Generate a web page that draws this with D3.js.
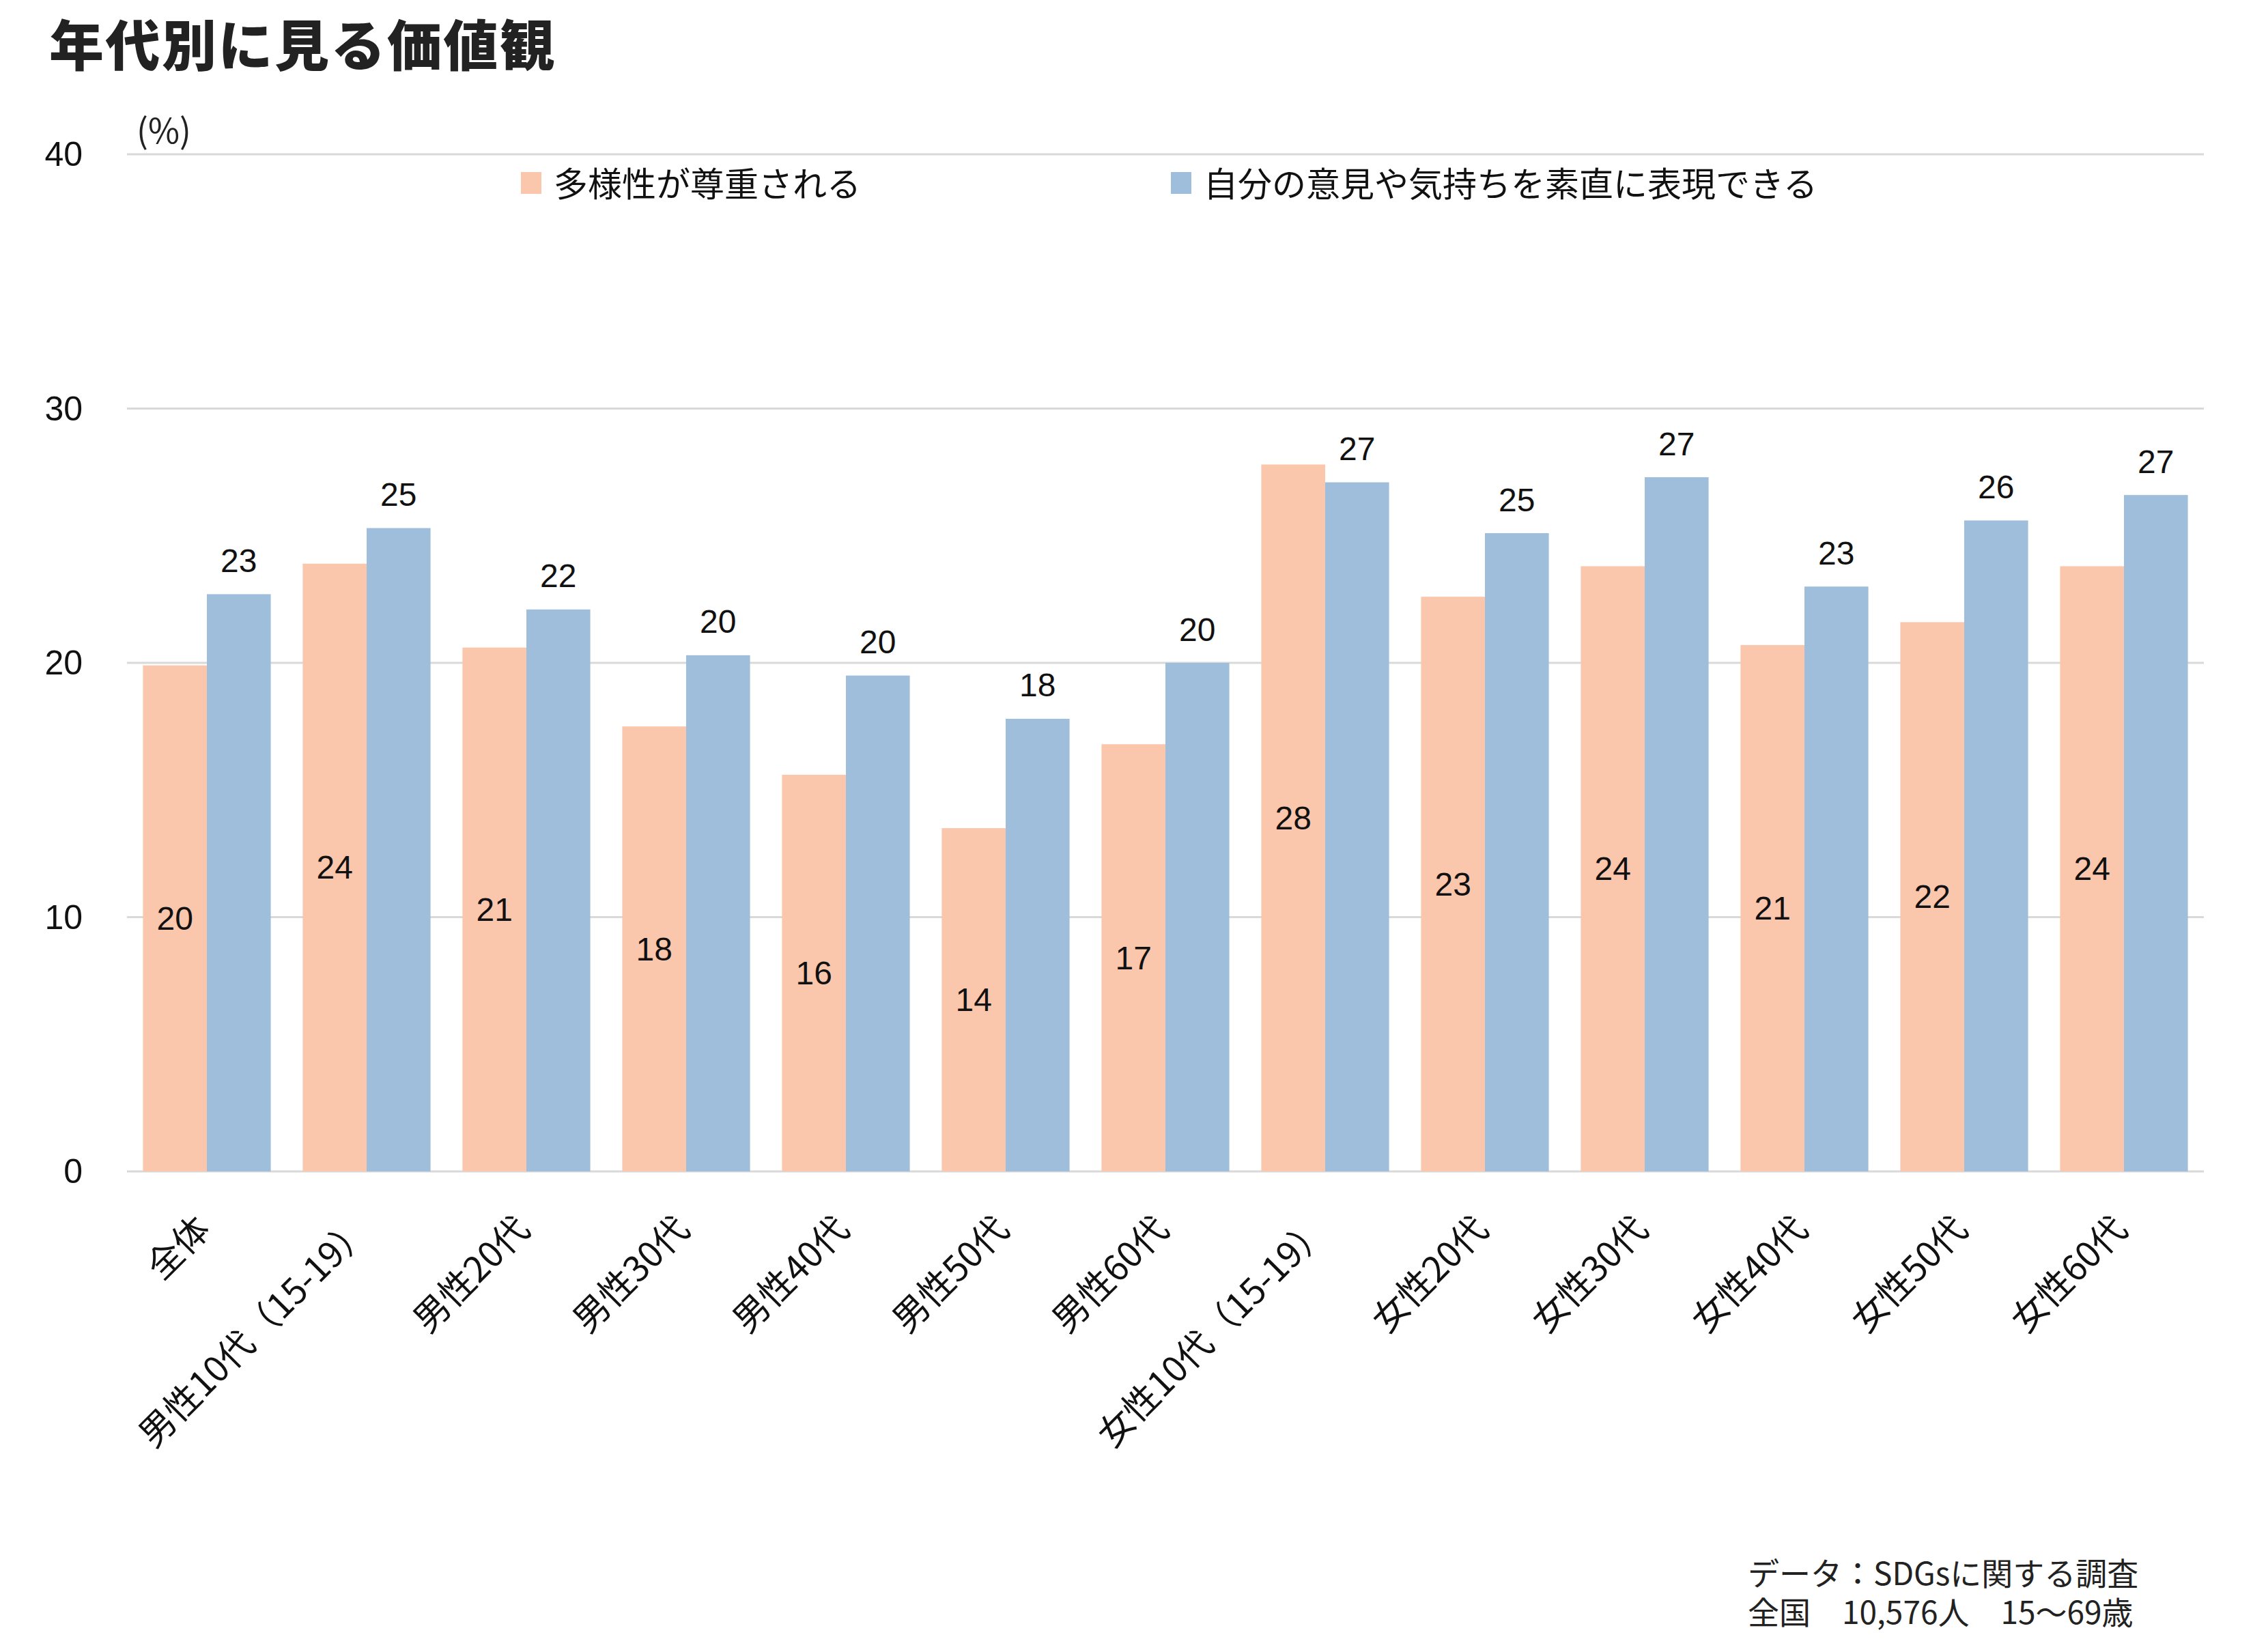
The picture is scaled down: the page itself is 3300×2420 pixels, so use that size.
<!DOCTYPE html>
<html>
<head>
<meta charset="utf-8">
<script src="https://cdn.jsdelivr.net/npm/d3@7"></script>
<style>
  body { margin: 0; background: #fff; }
  svg { display: block; }
</style>
</head>
<body>
<svg id="chart" width="3300" height="2420"></svg>
<script>
// Data
const categories = ['全体', '男性10代（15-19）', '男性20代', '男性30代', '男性40代', '男性50代', '男性60代',
  '女性10代（15-19）', '女性20代', '女性30代', '女性40代', '女性50代', '女性60代'];
const seriesNames = ['多様性が尊重される', '自分の意見や気持ちを素直に表現できる'];
const diversity = [19.9, 23.9, 20.6, 17.5, 15.6, 13.5, 16.8, 27.8, 22.6, 23.8, 20.7, 21.6, 23.8];
const expression = [22.7, 25.3, 22.1, 20.3, 19.5, 17.8, 20.0, 27.1, 25.1, 27.3, 23.0, 25.6, 26.6];
const yTicks = [0, 10, 20, 30, 40];
const colors = ['#fac6ac', '#9ebedc'];

const jpFont = '"Noto Sans CJK JP", "Noto Sans", sans-serif';
const numFont = '"Liberation Sans", Arial, sans-serif';

const svg = d3.select('#chart');

// Scales
const x = d3.scaleBand()
  .domain(categories)
  .range([186, 3228])
  .paddingInner(0.2)
  .paddingOuter(0.1);

const xs = d3.scaleBand()
  .domain([0, 1])
  .range([0, x.bandwidth()]);

const y = d3.scaleLinear()
  .domain([0, 40])
  .range([1716, 226]);

// Title
svg.append('text')
  .attr('x', 72)
  .attr('y', 96)
  .attr('font-family', jpFont)
  .attr('font-weight', 900)
  .attr('font-size', 80)
  .attr('letter-spacing', 2.5)
  .attr('fill', '#222')
  .text('年代別に見る価値観');

// Unit
svg.append('text')
  .attr('x', 200)
  .attr('y', 188)
  .attr('dominant-baseline', 'central')
  .attr('font-family', jpFont)
  .attr('font-size', 50)
  .attr('fill', '#222')
  .text('(%)');

// Gridlines
svg.append('g')
  .selectAll('line')
  .data(yTicks)
  .enter()
  .append('line')
  .attr('x1', 186)
  .attr('x2', 3228)
  .attr('y1', d => y(d))
  .attr('y2', d => y(d))
  .attr('stroke', '#d9d9d9')
  .attr('stroke-width', 3);

// Y tick labels
svg.append('g')
  .selectAll('text')
  .data(yTicks)
  .enter()
  .append('text')
  .attr('x', 121)
  .attr('y', d => y(d))
  .attr('text-anchor', 'end')
  .attr('dominant-baseline', 'central')
  .attr('font-family', numFont)
  .attr('font-size', 50)
  .attr('fill', '#111')
  .text(d => d);

// Bars
const rows = categories.map((c, i) => ({ cat: c, vals: [diversity[i], expression[i]] }));

const groups = svg.append('g')
  .selectAll('g')
  .data(rows)
  .enter()
  .append('g')
  .attr('transform', d => `translate(${x(d.cat)},0)`);

groups.selectAll('rect')
  .data(d => d.vals.map((v, k) => ({ v, k })))
  .enter()
  .append('rect')
  .attr('x', d => xs(d.k))
  .attr('width', xs.bandwidth())
  .attr('y', d => y(d.v))
  .attr('height', d => y(0) - y(d.v))
  .attr('fill', d => colors[d.k]);

// Value labels: first series centered inside, second above the bar
groups.selectAll('text')
  .data(d => d.vals.map((v, k) => ({ v, k })))
  .enter()
  .append('text')
  .attr('x', d => xs(d.k) + xs.bandwidth() / 2)
  .attr('y', d => d.k === 0 ? (y(d.v) + y(0)) / 2 : y(d.v) - 49)
  .attr('text-anchor', 'middle')
  .attr('dominant-baseline', 'central')
  .attr('font-family', numFont)
  .attr('font-size', 48)
  .attr('fill', '#111')
  .text(d => Math.round(d.v));

// X labels
svg.append('g')
  .selectAll('text')
  .data(categories)
  .enter()
  .append('text')
  .attr('transform', d => `translate(${x(d) + x.bandwidth() / 2 - 8},1788) rotate(-45)`)
  .attr('text-anchor', 'end')
  .attr('dominant-baseline', 'central')
  .attr('font-family', jpFont)
  .attr('font-size', 52)
  .attr('fill', '#111')
  .text(d => d);

// Legend
const legend = svg.append('g')
  .selectAll('g')
  .data(seriesNames)
  .enter()
  .append('g')
  .attr('transform', (d, i) => `translate(${[763, 1715][i]},266)`);

legend.append('rect')
  .attr('x', 0)
  .attr('y', -14)
  .attr('width', 30)
  .attr('height', 32)
  .attr('fill', (d, i) => colors[i]);

legend.append('text')
  .attr('x', 48)
  .attr('y', 0)
  .attr('dominant-baseline', 'central')
  .attr('font-family', jpFont)
  .attr('font-size', 50)
  .attr('fill', '#111')
  .text(d => d);

// Source note (one block, two lines)
const notes = ['データ：SDGsに関する調査', '全国　10,576人　15～69歳'];
svg.append('text')
  .attr('x', 2560)
  .attr('y', 2322)
  .attr('font-family', jpFont)
  .attr('font-size', 46)
  .attr('fill', '#222')
  .selectAll('tspan')
  .data(notes)
  .enter()
  .append('tspan')
  .attr('x', 2560)
  .attr('dy', (d, i) => i === 0 ? 0 : 57)
  .text(d => d);
</script>
</body>
</html>
